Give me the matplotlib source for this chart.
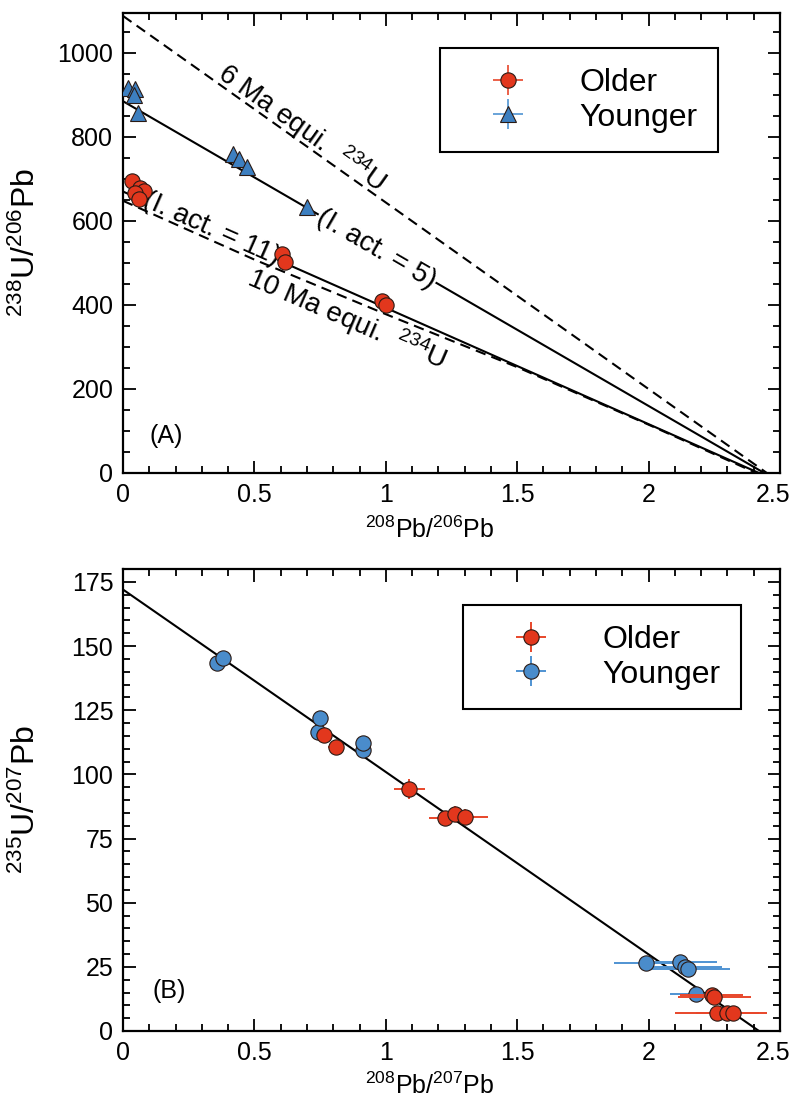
import numpy as np
import matplotlib.pyplot as plt
import matplotlib.transforms as mtransforms
from matplotlib.ticker import MultipleLocator
from matplotlib.legend_handler import HandlerErrorbar

plt.rcParams['font.family'] = ['Liberation Sans', 'DejaVu Sans']
plt.rcParams['mathtext.fontset'] = 'custom'
plt.rcParams['mathtext.rm'] = 'Liberation Sans'
plt.rcParams['mathtext.it'] = 'Liberation Sans:italic'
plt.rcParams['mathtext.bf'] = 'Liberation Sans:bold'

# ── Panel A: 238U/206Pb vs 208Pb/206Pb ─────────────────────────────────────
older_a_x = [0.036, 0.065, 0.080, 0.046, 0.061, 0.605, 0.616, 0.985, 1.000]
older_a_y = [695, 678, 672, 666, 652, 521, 503, 410, 400]
older_a_xerr = [0.008, 0.008, 0.008, 0.008, 0.008, 0.010, 0.010, 0.012, 0.012]
older_a_yerr = [6, 6, 6, 6, 6, 6, 6, 6, 6]

younger_a_x = [0.020, 0.046, 0.040, 0.057, 0.420, 0.440, 0.470, 0.700]
younger_a_y = [917, 914, 900, 856, 760, 747, 729, 634]
younger_a_xerr = [0.008, 0.008, 0.008, 0.008, 0.010, 0.010, 0.010, 0.010]
younger_a_yerr = [6, 6, 6, 6, 6, 6, 6, 6]

younger_fit_x = [0, 2.44]
younger_fit_y = [885, 0]
older_fit_x = [0, 2.42]
older_fit_y = [670, 0]
equi6_x = [0, 2.45]
equi6_y = [1088, 0]
equi10_x = [0, 0.5, 1.0, 1.5, 2.0, 2.41]
equi10_y = [648, 508, 378, 252, 115, 0]

# ── Panel B: 235U/207Pb vs 208Pb/207Pb ─────────────────────────────────────
older_b_x = [0.765, 0.810, 1.090, 1.225, 1.263, 1.300, 2.240, 2.250, 2.260, 2.300, 2.320]
older_b_y = [115.4, 110.8, 94.2, 82.9, 84.6, 83.5, 14.0, 13.4, 6.9, 6.9, 7.2]
older_b_xerr = [0.02, 0.03, 0.06, 0.06, 0.04, 0.09, 0.12, 0.14, 0.16, 0.12, 0.13]
older_b_yerr = [2.0, 1.5, 4.0, 3.0, 3.0, 3.0, 1.5, 1.5, 1.0, 1.0, 1.0]

younger_b_x = [0.358, 0.379, 0.743, 0.750, 0.915, 0.915, 1.990, 2.120, 2.140, 2.150, 2.180]
younger_b_y = [143.5, 145.2, 116.6, 122.1, 109.5, 112.4, 26.6, 27.0, 25.0, 24.2, 14.5]
younger_b_xerr = [0.01, 0.01, 0.02, 0.02, 0.03, 0.03, 0.12, 0.14, 0.14, 0.16, 0.10]
younger_b_yerr = [2.0, 2.0, 2.5, 2.5, 2.0, 2.0, 1.0, 1.5, 1.0, 1.0, 1.0]

fit_b_x = [0, 2.42]
fit_b_y = [172, 0]

# ── Estilo ─────────────────────────────────────────────────────────────────
RED = "#e2371d"
RED_BAR = "#e8462a"
BLUE_TRI = "#3d7fc0"
BLUE = "#4a8ccb"
BLUE_BAR = "#4f93d2"
EDGE = "#2a1a14"
TICK_FS = 18
YLAB_FS = 23
TEXT_FS = 20
LEG_FS = 23

W, H = 794, 1102
fig = plt.figure(figsize=(W / 100, H / 100), dpi=100)


def px_axes(left, top, right, bottom):
    return fig.add_axes([left / W, 1 - bottom / H, (right - left) / W, (bottom - top) / H])


def style_ax(ax, xlim, ylim, ymajor, yminor):
    ax.set_xlim(*xlim)
    ax.set_ylim(*ylim)
    ax.xaxis.set_major_locator(MultipleLocator(0.5))
    ax.xaxis.set_minor_locator(MultipleLocator(0.1))
    ax.yaxis.set_major_locator(MultipleLocator(ymajor))
    ax.yaxis.set_minor_locator(MultipleLocator(yminor))
    ax.xaxis.set_major_formatter(lambda v, _: f"{v:g}")
    ax.tick_params(which="both", direction="in", top=True, right=True,
                   width=1.3, labelsize=TICK_FS)
    ax.tick_params(which="major", length=9, pad=7)
    ax.tick_params(which="minor", length=5)
    for s in ax.spines.values():
        s.set_linewidth(1.6)


def line_angle(ax, x, y):
    p0 = ax.transData.transform((x[0], y[0]))
    p1 = ax.transData.transform((x[-1], y[-1]))
    return np.degrees(np.arctan2(p1[1] - p0[1], p1[0] - p0[0]))


def legend(ax, anchor):
    handles, labels = ax.get_legend_handles_labels()
    leg = ax.legend(handles, labels, loc="upper left", bbox_to_anchor=anchor,
                    borderaxespad=0, fontsize=LEG_FS, frameon=True,
                    fancybox=False, framealpha=1, edgecolor="black",
                    handlelength=3.0, handletextpad=0.75, labelspacing=0.15,
                    borderpad=0.62,
                    handler_map={type(handles[0]): HandlerErrorbar(xerr_size=0.47, yerr_size=0.47)})
    leg.get_frame().set_linewidth(1.5)


def axis_labels(ax, xlabel, ylabel, xlab_y):
    ax.set_xlabel(xlabel, fontsize=TICK_FS)
    ax.set_ylabel(ylabel, fontsize=YLAB_FS)
    ax.xaxis.set_label_coords(0.467, xlab_y)
    ax.yaxis.set_label_coords(-0.124, 0.5)


# ── (A) ─────────────────────────────────────────────────────────────────────
axA = px_axes(123, 13, 780, 473)
style_ax(axA, (0, 2.5), (0, 1095), 200, 50)

axA.plot(equi6_x, equi6_y, color="black", lw=1.5, ls=(0, (5, 3)), zorder=3)
axA.plot(equi10_x, equi10_y, color="black", lw=1.5, ls=(0, (5, 3)), zorder=3)
axA.plot(younger_fit_x, younger_fit_y, color="black", lw=1.5, zorder=2)
axA.plot(older_fit_x, older_fit_y, color="black", lw=1.5, zorder=2)

axA.errorbar(older_a_x, older_a_y, xerr=older_a_xerr, yerr=older_a_yerr,
             fmt="o", ms=11, mfc=RED, mec=EDGE, mew=0.8, ecolor=RED_BAR,
             elinewidth=1.2, capsize=0, label="Older", zorder=5)
axA.errorbar(younger_a_x, younger_a_y, xerr=younger_a_xerr, yerr=younger_a_yerr,
             fmt="^", ms=11, mfc=BLUE_TRI, mec=EDGE, mew=0.8, ecolor=BLUE_BAR,
             elinewidth=1.2, capsize=0, label="Younger", zorder=5)

ang6 = line_angle(axA, equi6_x, equi6_y)
ang10 = line_angle(axA, equi10_x[:3], equi10_y[:3])
angY = line_angle(axA, younger_fit_x, younger_fit_y)
angO = line_angle(axA, older_fit_x, older_fit_y)

axA.text(0.68, 822, "6 Ma equi.  $^{234}$U", fontsize=TEXT_FS, rotation=ang6,
         rotation_mode="anchor", ha="center", va="center")
axA.text(0.85, 368, "10 Ma equi.  $^{234}$U", fontsize=TEXT_FS, rotation=ang10,
         rotation_mode="anchor", ha="center", va="center")
axA.text(0.965, 532, "(I. act. = 5)", fontsize=TEXT_FS, rotation=angY,
         rotation_mode="anchor", ha="center", va="center", zorder=2.5,
         bbox=dict(facecolor="white", edgecolor="none", pad=0.5))
axA.text(0.335, 580, "(I. act. = 11)", fontsize=TEXT_FS, rotation=angO,
         rotation_mode="anchor", ha="center", va="center", zorder=2.5,
         bbox=dict(facecolor="white", edgecolor="none", pad=0.5))
axA.text(0.165, 87, "(A)", fontsize=TICK_FS, ha="center", va="center")

axis_labels(axA, "$^{208}$Pb/$^{206}$Pb", "$^{238}$U/$^{206}$Pb", -0.095)
legend(axA, (0.4825, 0.924))

# ── (B) ─────────────────────────────────────────────────────────────────────
axB = px_axes(123, 569, 780, 1031)
style_ax(axB, (0, 2.5), (0, 180), 25, 5)

axB.plot(fit_b_x, fit_b_y, color="black", lw=1.5, zorder=2)
axB.errorbar(older_b_x, older_b_y, xerr=older_b_xerr, yerr=older_b_yerr,
             fmt="o", ms=11, mfc=RED, mec=EDGE, mew=0.8, ecolor=RED_BAR,
             elinewidth=1.4, capsize=0, label="Older", zorder=5)
axB.errorbar(younger_b_x, younger_b_y, xerr=younger_b_xerr, yerr=younger_b_yerr,
             fmt="o", ms=11, mfc=BLUE, mec=EDGE, mew=0.8, ecolor=BLUE_BAR,
             elinewidth=1.4, capsize=0, label="Younger", zorder=4)
axB.text(0.175, 15.5, "(B)", fontsize=TICK_FS, ha="center", va="center")

axis_labels(axB, "$^{208}$Pb/$^{207}$Pb", "$^{235}$U/$^{207}$Pb", -0.089)
legend(axB, (0.5175, 0.922))

# el "2.5" del borde derecho se corre un poco a la izquierda, como en el original
fig.canvas.draw()
shift = mtransforms.ScaledTranslation(-7 / 100, 0, fig.dpi_scale_trans)
for ax in (axA, axB):
    for t in ax.xaxis.get_major_ticks():
        if abs(t.get_loc() - 2.5) < 1e-9:
            t.label1.set_transform(t.label1.get_transform() + shift)

fig.savefig("out.png", dpi=100)
